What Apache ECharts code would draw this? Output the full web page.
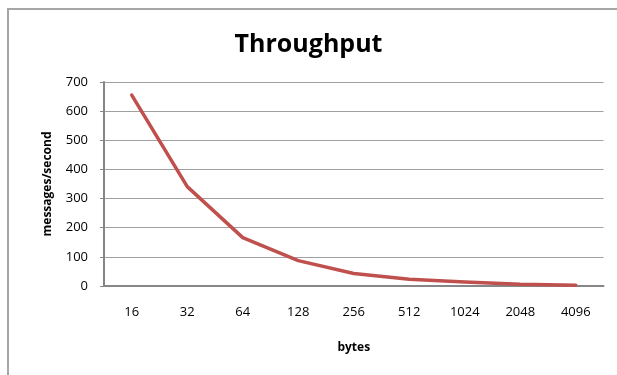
<!DOCTYPE html>
<html>
<head>
<meta charset="utf-8">
<script src="https://cdn.jsdelivr.net/npm/echarts@6/dist/echarts.min.js"></script>
<style>
  html, body { margin: 0; padding: 0; background: #fff; }
  #chart { width: 617px; height: 375px; }
</style>
</head>
<body>
<div id="chart"></div>
<script>
// Message size in bytes and the measured throughput for each size
const categories = ['16', '32', '64', '128', '256', '512', '1024', '2048', '4096'];
const throughput = [655, 341, 166, 87, 43, 23, 14, 6, 3];
const yTicks = { min: 0, max: 700, interval: 100 };

const FONT = '"Open Sans", "Liberation Sans", sans-serif';
const chart = echarts.init(document.getElementById('chart'), null, { renderer: 'canvas' });

chart.setOption({
  backgroundColor: '#ffffff',
  animation: false,
  title: {
    text: 'Throughput',
    left: 'center',
    top: 27,
    textStyle: { fontFamily: FONT, fontWeight: 'bold', fontSize: 25, color: '#000' }
  },
  graphic: [{
    type: 'rect',
    shape: { x: 8, y: 9, width: 800, height: 600 },
    style: { fill: 'none', stroke: '#a6a6a6', lineWidth: 2 },
    silent: true
  }],
  grid: { left: 104, right: 13.5, top: 82, bottom: 89, containLabel: false },
  xAxis: {
    type: 'category',
    data: categories,
    boundaryGap: true,
    name: 'bytes',
    nameLocation: 'middle',
    nameGap: 56,
    nameTextStyle: { fontFamily: FONT, fontWeight: 'bold', fontSize: 12, color: '#000' },
    axisLine: { lineStyle: { color: '#868686', width: 2 } },
    axisTick: { show: false },
    axisLabel: { fontFamily: FONT, fontSize: 13, color: '#000', margin: 20 },
    splitLine: { show: false }
  },
  yAxis: {
    type: 'value',
    min: yTicks.min,
    max: yTicks.max,
    interval: yTicks.interval,
    name: 'messages/second',
    nameLocation: 'middle',
    nameGap: 50,
    nameTextStyle: { fontFamily: FONT, fontWeight: 'bold', fontSize: 12, color: '#000' },
    axisLine: { show: true, lineStyle: { color: '#868686', width: 2 } },
    axisTick: { show: true, length: 4, lineStyle: { color: '#868686', width: 1 } },
    axisLabel: { fontFamily: FONT, fontSize: 13, color: '#000', margin: 16 },
    splitLine: { show: true, lineStyle: { color: '#a0a0a0', width: 1 } }
  },
  series: [{
    type: 'line',
    data: throughput,
    symbol: 'none',
    lineStyle: { color: '#c0504d', width: 3.5, cap: 'round', join: 'round' },
    itemStyle: { color: '#c0504d' }
  }]
});
</script>
</body>
</html>
